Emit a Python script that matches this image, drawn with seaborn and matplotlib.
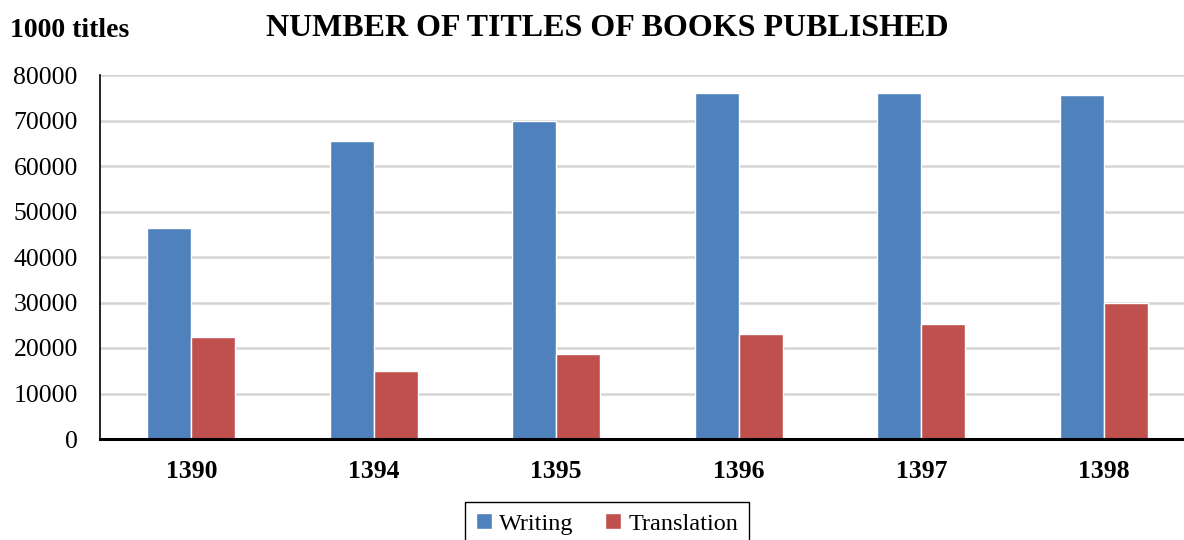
import pandas as pd
import matplotlib.pyplot as plt
import seaborn as sns

# Values
years = ['1390', '1394', '1395', '1396', '1397', '1398']
writing = [46300, 65500, 69900, 76000, 76000, 75700]
translation = [22400, 15000, 18700, 23100, 25200, 29900]

df = pd.DataFrame({
    'year': years * 2,
    'titles': writing + translation,
    'type': ['Writing'] * len(years) + ['Translation'] * len(years),
})

sns.set_style('white')
plt.rcParams['font.family'] = ['Liberation Serif', 'DejaVu Serif']
plt.rcParams['text.color'] = 'black'
plt.rcParams['xtick.color'] = 'black'
plt.rcParams['ytick.color'] = 'black'

fig = plt.figure(figsize=(11.84, 5.4), dpi=100)
ax = fig.add_axes([100 / 1184, 1 - 439 / 540, 1 - 100 / 1184, (439 - 75) / 540])

palette = {'Writing': '#4F81BD', 'Translation': '#C0504D'}
sns.barplot(data=df, x='year', y='titles', hue='type', palette=palette,
            width=0.48, edgecolor='white', linewidth=1.0, saturation=1,
            ax=ax, zorder=3)

ax.set_xlim(-0.5, -0.5 + 1084 / 182.5)
ax.set_ylim(0, 80000)
ax.set_yticks(range(0, 80001, 10000))
ax.yaxis.grid(True, color='#D4D4D4', linewidth=1.8, zorder=0)
ax.set_axisbelow(True)
ax.set_xlabel('')
ax.set_ylabel('')

for side in ['top', 'right']:
    ax.spines[side].set_visible(False)
ax.spines['left'].set_color('black')
ax.spines['left'].set_linewidth(1.2)
ax.spines['bottom'].set_color('black')
ax.spines['bottom'].set_linewidth(2.2)
ax.spines['bottom'].set_zorder(5)

ax.tick_params(axis='y', length=0, labelsize=18.5, pad=16)
ax.tick_params(axis='x', length=0, labelsize=18.5, pad=15)
for lbl in ax.get_xticklabels():
    lbl.set_fontweight('bold')

handles, labels = ax.get_legend_handles_labels()
ax.get_legend().remove()
fig.legend(handles, labels, loc='upper center', bbox_to_anchor=(607 / 1184, 1 - 502 / 540),
           ncol=2, fontsize=17.5, frameon=True, fancybox=False, edgecolor='black',
           handlelength=0.65, handleheight=0.65, handletextpad=0.3, columnspacing=1.3,
           borderpad=0.45, borderaxespad=0, framealpha=1)

fig.text(607 / 1184, 1 - 28 / 540, 'NUMBER OF TITLES OF BOOKS PUBLISHED',
         ha='center', va='center', fontsize=23, fontweight='bold')
fig.text(10 / 1184, 1 - 31 / 540, '1000 titles', ha='left', va='center',
         fontsize=20, fontweight='bold')

fig.savefig('out.png', dpi=100)
